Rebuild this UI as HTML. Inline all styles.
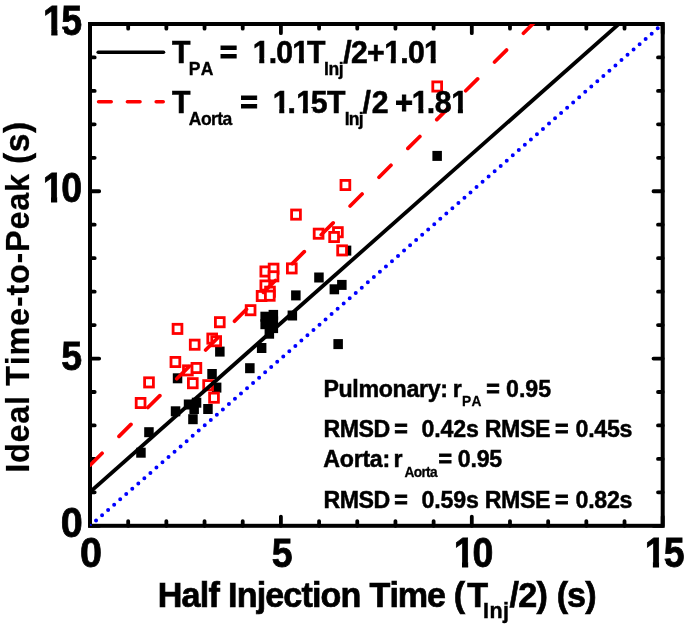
<!DOCTYPE html>
<html><head><meta charset="utf-8"><title>Ideal Time-to-Peak vs Half Injection Time</title>
<style>
html,body{margin:0;padding:0;background:#fff}
svg{display:block}
text{font-family:"Liberation Sans",Arial,Helvetica,sans-serif;font-weight:bold;font-kerning:none;white-space:pre}
</style></head><body>
<svg width="685" height="629" viewBox="0 0 685 629">
<defs><clipPath id="k0"><path clip-rule="evenodd" d="M-500 -500H3000V500H-500ZM1.35 -5.72H9.30V1.81H1.35ZM16.21 -5.72H23.63V1.81H16.21Z"/></clipPath><clipPath id="k1"><path clip-rule="evenodd" d="M-500 -500H3000V500H-500ZM1.35 -5.72H9.30V1.81H1.35ZM16.21 -5.72H23.63V1.81H16.21Z"/></clipPath><clipPath id="k2"><path clip-rule="evenodd" d="M-500 -500H3000V500H-500ZM1.35 -5.72H9.30V1.81H1.35ZM16.21 -5.72H23.63V1.81H16.21Z"/></clipPath><clipPath id="k3"><path clip-rule="evenodd" d="M-500 -500H3000V500H-500ZM1.35 -5.72H9.30V1.81H1.35ZM16.21 -5.72H23.63V1.81H16.21Z"/></clipPath><clipPath id="k4"><path clip-rule="evenodd" d="M-500 -500H3000V500H-500ZM0.91 -4.60H7.07V1.62H0.91ZM12.41 -4.60H18.16V1.62H12.41ZM43.22 -4.60H49.37V1.62H43.22ZM54.72 -4.60H60.47V1.62H54.72Z"/></clipPath><clipPath id="k5"><path clip-rule="evenodd" d="M-500 -500H3000V500H-500ZM0.91 -4.60H7.07V1.62H0.91ZM12.41 -4.60H18.16V1.62H12.41ZM43.54 -4.60H49.69V1.62H43.54ZM55.04 -4.60H60.79V1.62H55.04Z"/></clipPath><clipPath id="k6"><path clip-rule="evenodd" d="M-500 -500H3000V500H-500ZM0.91 -4.60H7.07V1.62H0.91ZM12.41 -4.60H17.51V1.62H12.41Z"/></clipPath><clipPath id="k7"><path clip-rule="evenodd" d="M-500 -500H3000V500H-500ZM0.91 -4.60H7.07V1.62H0.91ZM12.41 -4.60H17.72V1.62H12.41Z"/></clipPath><clipPath id="k8"><path clip-rule="evenodd" d="M-500 -500H3000V500H-500ZM0.91 -4.60H7.07V1.62H0.91ZM12.41 -4.60H17.51V1.62H12.41Z"/></clipPath><clipPath id="k9"><path clip-rule="evenodd" d="M-500 -500H3000V500H-500ZM18.45 -4.60H24.61V1.62H18.45ZM29.95 -4.60H35.70V1.62H29.95Z"/></clipPath><clipPath id="c"><rect x="90.0" y="24.0" width="572.70" height="501.80"/></clipPath></defs>
<rect width="685" height="629" fill="#fff"/>
<rect x="90.0" y="24.0" width="572.70" height="501.80" fill="none" stroke="#000" stroke-width="4"/>
<path d="M90.00 525.8v-9.2M90.00 24.0v9.2M90.0 525.80h9.2M662.7 525.80h-9.2M128.18 525.8v-4.7M128.18 24.0v4.7M90.0 492.35h4.7M662.7 492.35h-4.7M166.36 525.8v-4.7M166.36 24.0v4.7M90.0 458.89h4.7M662.7 458.89h-4.7M204.54 525.8v-4.7M204.54 24.0v4.7M90.0 425.44h4.7M662.7 425.44h-4.7M242.72 525.8v-4.7M242.72 24.0v4.7M90.0 391.99h4.7M662.7 391.99h-4.7M280.90 525.8v-9.2M280.90 24.0v9.2M90.0 358.53h9.2M662.7 358.53h-9.2M319.08 525.8v-4.7M319.08 24.0v4.7M90.0 325.08h4.7M662.7 325.08h-4.7M357.26 525.8v-4.7M357.26 24.0v4.7M90.0 291.63h4.7M662.7 291.63h-4.7M395.44 525.8v-4.7M395.44 24.0v4.7M90.0 258.17h4.7M662.7 258.17h-4.7M433.62 525.8v-4.7M433.62 24.0v4.7M90.0 224.72h4.7M662.7 224.72h-4.7M471.80 525.8v-9.2M471.80 24.0v9.2M90.0 191.27h9.2M662.7 191.27h-9.2M509.98 525.8v-4.7M509.98 24.0v4.7M90.0 157.81h4.7M662.7 157.81h-4.7M548.16 525.8v-4.7M548.16 24.0v4.7M90.0 124.36h4.7M662.7 124.36h-4.7M586.34 525.8v-4.7M586.34 24.0v4.7M90.0 90.91h4.7M662.7 90.91h-4.7M624.52 525.8v-4.7M624.52 24.0v4.7M90.0 57.45h4.7M662.7 57.45h-4.7M662.70 525.8v-9.2M662.70 24.0v9.2M90.0 24.00h9.2M662.7 24.00h-9.2" stroke="#000" stroke-width="3.8" stroke-linecap="round" fill="none"/>
<rect x="136.2" y="447.7" width="9.5" height="10.0" fill="#000"/>
<rect x="144.2" y="427.2" width="9.5" height="10.0" fill="#000"/>
<rect x="170.8" y="406.3" width="9.5" height="10.0" fill="#000"/>
<rect x="172.8" y="373.3" width="9.5" height="10.0" fill="#000"/>
<rect x="183.8" y="399.5" width="9.5" height="10.0" fill="#000"/>
<rect x="191.8" y="397.7" width="9.5" height="10.0" fill="#000"/>
<rect x="189.4" y="404.0" width="9.5" height="10.0" fill="#000"/>
<rect x="188.2" y="414.2" width="9.5" height="10.0" fill="#000"/>
<rect x="203.2" y="404.0" width="9.5" height="10.0" fill="#000"/>
<rect x="207.3" y="369.0" width="9.5" height="10.0" fill="#000"/>
<rect x="211.9" y="382.6" width="9.5" height="10.0" fill="#000"/>
<rect x="215.1" y="346.6" width="9.5" height="10.0" fill="#000"/>
<rect x="245.1" y="363.2" width="9.5" height="10.0" fill="#000"/>
<rect x="256.9" y="343.0" width="9.5" height="10.0" fill="#000"/>
<rect x="260.4" y="311.7" width="9.5" height="10.0" fill="#000"/>
<rect x="268.6" y="309.9" width="9.5" height="10.0" fill="#000"/>
<rect x="260.4" y="319.2" width="9.5" height="10.0" fill="#000"/>
<rect x="268.6" y="316.4" width="9.5" height="10.0" fill="#000"/>
<rect x="268.6" y="323.1" width="9.5" height="10.0" fill="#000"/>
<rect x="264.6" y="328.7" width="9.5" height="10.0" fill="#000"/>
<rect x="287.6" y="310.5" width="9.5" height="10.0" fill="#000"/>
<rect x="291.1" y="290.4" width="9.5" height="10.0" fill="#000"/>
<rect x="314.2" y="272.5" width="9.5" height="10.0" fill="#000"/>
<rect x="329.6" y="284.3" width="9.5" height="10.0" fill="#000"/>
<rect x="337.1" y="279.9" width="9.5" height="10.0" fill="#000"/>
<rect x="333.4" y="339.1" width="9.5" height="10.0" fill="#000"/>
<rect x="341.8" y="245.6" width="9.5" height="10.0" fill="#000"/>
<rect x="432.4" y="150.9" width="9.5" height="10.0" fill="#000"/>
<rect x="136.2" y="398.4" width="8.8" height="9.2" fill="#fff" stroke="#f00" stroke-width="2.8"/>
<rect x="144.6" y="377.8" width="8.8" height="9.2" fill="#fff" stroke="#f00" stroke-width="2.8"/>
<rect x="171.0" y="357.4" width="8.8" height="9.2" fill="#fff" stroke="#f00" stroke-width="2.8"/>
<rect x="173.1" y="324.3" width="8.8" height="9.2" fill="#fff" stroke="#f00" stroke-width="2.8"/>
<rect x="183.5" y="365.8" width="8.8" height="9.2" fill="#fff" stroke="#f00" stroke-width="2.8"/>
<rect x="188.4" y="378.6" width="8.8" height="9.2" fill="#fff" stroke="#f00" stroke-width="2.8"/>
<rect x="192.0" y="363.4" width="8.8" height="9.2" fill="#fff" stroke="#f00" stroke-width="2.8"/>
<rect x="190.3" y="340.1" width="8.8" height="9.2" fill="#fff" stroke="#f00" stroke-width="2.8"/>
<rect x="203.7" y="380.6" width="8.8" height="9.2" fill="#fff" stroke="#f00" stroke-width="2.8"/>
<rect x="209.6" y="393.1" width="8.8" height="9.2" fill="#fff" stroke="#f00" stroke-width="2.8"/>
<rect x="207.8" y="334.0" width="8.8" height="9.2" fill="#fff" stroke="#f00" stroke-width="2.8"/>
<rect x="211.8" y="336.6" width="8.8" height="9.2" fill="#fff" stroke="#f00" stroke-width="2.8"/>
<rect x="215.4" y="317.6" width="8.8" height="9.2" fill="#fff" stroke="#f00" stroke-width="2.8"/>
<rect x="246.2" y="305.6" width="8.8" height="9.2" fill="#fff" stroke="#f00" stroke-width="2.8"/>
<rect x="257.2" y="291.4" width="8.8" height="9.2" fill="#fff" stroke="#f00" stroke-width="2.8"/>
<rect x="260.9" y="266.9" width="8.8" height="9.2" fill="#fff" stroke="#f00" stroke-width="2.8"/>
<rect x="269.2" y="264.1" width="8.8" height="9.2" fill="#fff" stroke="#f00" stroke-width="2.8"/>
<rect x="269.1" y="271.7" width="8.8" height="9.2" fill="#fff" stroke="#f00" stroke-width="2.8"/>
<rect x="260.9" y="280.9" width="8.8" height="9.2" fill="#fff" stroke="#f00" stroke-width="2.8"/>
<rect x="265.6" y="287.1" width="8.8" height="9.2" fill="#fff" stroke="#f00" stroke-width="2.8"/>
<rect x="265.4" y="291.1" width="8.8" height="9.2" fill="#fff" stroke="#f00" stroke-width="2.8"/>
<rect x="287.4" y="263.8" width="8.8" height="9.2" fill="#fff" stroke="#f00" stroke-width="2.8"/>
<rect x="291.6" y="210.0" width="8.8" height="9.2" fill="#fff" stroke="#f00" stroke-width="2.8"/>
<rect x="314.2" y="229.1" width="8.8" height="9.2" fill="#fff" stroke="#f00" stroke-width="2.8"/>
<rect x="333.5" y="227.6" width="8.8" height="9.2" fill="#fff" stroke="#f00" stroke-width="2.8"/>
<rect x="329.7" y="232.4" width="8.8" height="9.2" fill="#fff" stroke="#f00" stroke-width="2.8"/>
<rect x="337.7" y="245.8" width="8.8" height="9.2" fill="#fff" stroke="#f00" stroke-width="2.8"/>
<rect x="341.0" y="180.4" width="8.8" height="9.2" fill="#fff" stroke="#f00" stroke-width="2.8"/>
<rect x="432.8" y="81.9" width="8.8" height="9.2" fill="#fff" stroke="#f00" stroke-width="2.8"/>
<g clip-path="url(#c)">
<line x1="90.00" y1="525.80" x2="662.70" y2="24.00" stroke="#00f" stroke-width="4.0" stroke-linecap="round" stroke-dasharray="0 8.03"/>
<line x1="90.00" y1="492.01" x2="662.70" y2="-14.81" stroke="#000" stroke-width="3.8"/>
<line x1="90.1" y1="465.15" x2="562.7" y2="-5.9" stroke="#f00" stroke-width="3.7" stroke-linecap="round" stroke-dasharray="16.9 23.89"/>
</g>
<line x1="98.2" y1="52.2" x2="163.5" y2="52.2" stroke="#000" stroke-width="3.6" stroke-linecap="round"/>
<line x1="98.6" y1="101.7" x2="163.2" y2="101.7" stroke="#f00" stroke-width="3.6" stroke-linecap="round" stroke-dasharray="12.6 16.2"/>
<text transform="translate(43.04 35.10) scale(0.8890 1)" font-size="42.24" letter-spacing="-2.893" fill="#000" stroke="#000" stroke-width="0.81" clip-path="url(#k0)" >15</text>
<text transform="translate(42.74 202.47) scale(0.8890 1)" font-size="42.24" letter-spacing="-2.674" fill="#000" stroke="#000" stroke-width="0.81" clip-path="url(#k1)" >10</text>
<text transform="translate(61.13 369.73) scale(0.9371 1)" font-size="40.06" letter-spacing="0.000" fill="#000" stroke="#000" stroke-width="0.77" >5</text>
<text transform="translate(60.64 537.10) scale(0.9371 1)" font-size="42.24" letter-spacing="0.000" fill="#000" stroke="#000" stroke-width="0.81" >0</text>
<text transform="translate(80.04 566.60) scale(0.9371 1)" font-size="42.24" letter-spacing="0.000" fill="#000" stroke="#000" stroke-width="0.81" >0</text>
<text transform="translate(271.73 566.70) scale(0.9371 1)" font-size="40.06" letter-spacing="0.000" fill="#000" stroke="#000" stroke-width="0.77" >5</text>
<text transform="translate(453.74 566.60) scale(0.8890 1)" font-size="42.24" letter-spacing="-2.336" fill="#000" stroke="#000" stroke-width="0.81" clip-path="url(#k2)" >10</text>
<text transform="translate(644.64 566.60) scale(0.8890 1)" font-size="42.24" letter-spacing="-2.106" fill="#000" stroke="#000" stroke-width="0.81" clip-path="url(#k3)" >15</text>
<text transform="translate(157.77 606.80) scale(0.9653 1)" font-size="35.35" letter-spacing="-0.846" fill="#000" stroke="#000" stroke-width="0.70" >Half</text>
<text transform="translate(228.07 606.80) scale(0.9653 1)" font-size="35.35" letter-spacing="-0.906" fill="#000" stroke="#000" stroke-width="0.70" >Injection</text>
<text transform="translate(369.57 606.80) scale(0.9653 1)" font-size="35.35" letter-spacing="-1.070" fill="#000" stroke="#000" stroke-width="0.70" >Time</text>
<text transform="translate(453.65 606.80) scale(0.9653 1)" font-size="35.35" letter-spacing="2.235" fill="#000" stroke="#000" stroke-width="0.70" >(T</text>
<text transform="translate(482.99 618.40) scale(0.9653 1)" font-size="22.22" letter-spacing="0.560" fill="#000" stroke="#000" stroke-width="0.44" >Inj</text>
<text transform="translate(509.62 606.80) scale(0.9653 1)" font-size="35.35" letter-spacing="-0.876" fill="#000" stroke="#000" stroke-width="0.70" >/2)</text>
<text transform="translate(556.65 606.80) scale(0.9653 1)" font-size="35.35" letter-spacing="-0.936" fill="#000" stroke="#000" stroke-width="0.70" >(s)</text>
<g transform="translate(28.8 470.7) rotate(-90)">
<text transform="translate(-2.07 0.00) scale(0.9653 1)" font-size="33.63" letter-spacing="0.721" fill="#000" stroke="#000" stroke-width="0.20" >Ideal</text>
<text transform="translate(84.94 0.00) scale(0.9653 1)" font-size="33.63" letter-spacing="0.750" fill="#000" stroke="#000" stroke-width="0.20" >Time-to-Peak</text>
<text transform="translate(306.80 0.40) scale(0.9653 1)" font-size="34.84" letter-spacing="0.464" fill="#000" stroke="#000" stroke-width="0.35" >(s)</text>
</g>
<text transform="translate(171.97 62.80) scale(0.9371 1)" font-size="32.25" letter-spacing="0.000" fill="#000" stroke="#000" stroke-width="0.62" >T</text>
<text transform="translate(188.81 75.20) scale(0.9371 1)" font-size="18.73" letter-spacing="0.317" fill="#000" stroke="#000" stroke-width="0.36" >PA</text>
<text transform="translate(219.77 62.80) scale(0.9371 1)" font-size="32.25" letter-spacing="0.000" fill="#000" stroke="#000" stroke-width="1.05" >=</text>
<text transform="translate(252.64 62.80) scale(0.9371 1)" font-size="32.25" letter-spacing="-0.844" fill="#000" stroke="#000" stroke-width="0.62" clip-path="url(#k4)" >1.01</text>
<text transform="translate(306.97 62.80) scale(0.9371 1)" font-size="32.25" letter-spacing="0.000" fill="#000" stroke="#000" stroke-width="0.62" >T</text>
<text transform="translate(324.01 74.90) scale(0.9371 1)" font-size="18.73" letter-spacing="-0.493" fill="#000" stroke="#000" stroke-width="0.36" >Inj</text>
<text transform="translate(343.21 62.80) scale(0.9371 1)" font-size="32.25" letter-spacing="-0.725" fill="#000" stroke="#000" stroke-width="0.62" >/2+</text>
<text transform="translate(384.14 62.80) scale(0.9371 1)" font-size="32.25" letter-spacing="-0.737" fill="#000" stroke="#000" stroke-width="0.62" clip-path="url(#k5)" >1.01</text>
<text transform="translate(171.97 112.80) scale(0.9371 1)" font-size="32.25" letter-spacing="0.000" fill="#000" stroke="#000" stroke-width="0.62" >T</text>
<text transform="translate(188.84 124.50) scale(0.9371 1)" font-size="18.73" letter-spacing="-0.630" fill="#000" stroke="#000" stroke-width="0.36" >Aorta</text>
<text transform="translate(240.17 112.80) scale(0.9371 1)" font-size="32.25" letter-spacing="0.000" fill="#000" stroke="#000" stroke-width="1.05" >=</text>
<text transform="translate(272.64 112.80) scale(0.9371 1)" font-size="32.25" letter-spacing="-2.006" fill="#000" stroke="#000" stroke-width="0.62" clip-path="url(#k6)" >1.</text>
<text transform="translate(296.24 112.80) scale(0.9371 1)" font-size="32.25" letter-spacing="-2.489" fill="#000" stroke="#000" stroke-width="0.62" clip-path="url(#k7)" >15</text>
<text transform="translate(326.97 112.80) scale(0.9371 1)" font-size="32.25" letter-spacing="0.000" fill="#000" stroke="#000" stroke-width="0.62" >T</text>
<text transform="translate(344.71 124.50) scale(0.9371 1)" font-size="18.73" letter-spacing="-0.867" fill="#000" stroke="#000" stroke-width="0.36" >Inj</text>
<text transform="translate(362.51 112.80) scale(0.9371 1)" font-size="32.25" letter-spacing="0.830" fill="#000" stroke="#000" stroke-width="0.62" >/2</text>
<text transform="translate(395.16 112.80) scale(0.9371 1)" font-size="32.25" letter-spacing="0.000" fill="#000" stroke="#000" stroke-width="1.05" >+</text>
<text transform="translate(411.74 112.80) scale(0.9371 1)" font-size="32.25" letter-spacing="-2.006" fill="#000" stroke="#000" stroke-width="0.62" clip-path="url(#k8)" >1.</text>
<text transform="translate(434.85 112.80) scale(0.9371 1)" font-size="32.25" letter-spacing="-0.397" fill="#000" stroke="#000" stroke-width="0.62" clip-path="url(#k9)" >81</text>
<text transform="translate(323.39 396.60) scale(0.9653 1)" font-size="24.04" letter-spacing="-0.350" fill="#000" stroke="#000" stroke-width="0.48" >Pulmonary:</text>
<text transform="translate(452.71 396.80) scale(0.9371 1)" font-size="24.76" letter-spacing="0.000" fill="#000" stroke="#000" stroke-width="0.48" >r</text>
<text transform="translate(462.02 406.30) scale(0.9371 1)" font-size="14.67" letter-spacing="0.323" fill="#000" stroke="#000" stroke-width="0.28" >PA</text>
<text transform="translate(486.34 396.80) scale(0.9371 1)" font-size="24.76" letter-spacing="0.000" fill="#000" stroke="#000" stroke-width="0.81" >=</text>
<text transform="translate(506.02 396.80) scale(0.9371 1)" font-size="24.76" letter-spacing="-0.027" fill="#000" stroke="#000" stroke-width="0.48" >0.95</text>
<text transform="translate(323.59 436.50) scale(0.9371 1)" font-size="24.76" letter-spacing="-0.595" fill="#000" stroke="#000" stroke-width="0.48" >RMSD</text>
<text transform="translate(394.34 436.50) scale(0.9371 1)" font-size="24.76" letter-spacing="0.000" fill="#000" stroke="#000" stroke-width="0.81" >=</text>
<text transform="translate(421.52 436.50) scale(0.9371 1)" font-size="24.76" letter-spacing="-0.154" fill="#000" stroke="#000" stroke-width="0.48" >0.42s</text>
<text transform="translate(484.79 436.50) scale(0.9371 1)" font-size="24.76" letter-spacing="-0.448" fill="#000" stroke="#000" stroke-width="0.48" >RMSE</text>
<text transform="translate(555.04 436.50) scale(0.9371 1)" font-size="24.76" letter-spacing="0.000" fill="#000" stroke="#000" stroke-width="0.81" >=</text>
<text transform="translate(575.52 436.50) scale(0.9371 1)" font-size="24.76" letter-spacing="-0.287" fill="#000" stroke="#000" stroke-width="0.48" >0.45s</text>
<text transform="translate(323.59 507.80) scale(0.9371 1)" font-size="24.76" letter-spacing="-0.595" fill="#000" stroke="#000" stroke-width="0.48" >RMSD</text>
<text transform="translate(394.34 507.80) scale(0.9371 1)" font-size="24.76" letter-spacing="0.000" fill="#000" stroke="#000" stroke-width="0.81" >=</text>
<text transform="translate(421.52 507.80) scale(0.9371 1)" font-size="24.76" letter-spacing="-0.154" fill="#000" stroke="#000" stroke-width="0.48" >0.59s</text>
<text transform="translate(484.79 507.80) scale(0.9371 1)" font-size="24.76" letter-spacing="-0.448" fill="#000" stroke="#000" stroke-width="0.48" >RMSE</text>
<text transform="translate(555.04 507.80) scale(0.9371 1)" font-size="24.76" letter-spacing="0.000" fill="#000" stroke="#000" stroke-width="0.81" >=</text>
<text transform="translate(575.52 507.80) scale(0.9371 1)" font-size="24.76" letter-spacing="-0.287" fill="#000" stroke="#000" stroke-width="0.48" >0.82s</text>
<text transform="translate(323.36 467.30) scale(0.9653 1)" font-size="24.04" letter-spacing="-0.309" fill="#000" stroke="#000" stroke-width="0.48" >Aorta:</text>
<text transform="translate(393.61 467.30) scale(0.9371 1)" font-size="24.76" letter-spacing="0.000" fill="#000" stroke="#000" stroke-width="0.48" >r</text>
<text transform="translate(404.40 476.70) scale(0.9371 1)" font-size="14.67" letter-spacing="-0.701" fill="#000" stroke="#000" stroke-width="0.28" >Aorta</text>
<text transform="translate(438.54 467.30) scale(0.9371 1)" font-size="24.76" letter-spacing="0.000" fill="#000" stroke="#000" stroke-width="0.81" >=</text>
<text transform="translate(457.82 467.30) scale(0.9371 1)" font-size="24.76" letter-spacing="-0.276" fill="#000" stroke="#000" stroke-width="0.48" >0.95</text>
</svg>
</body></html>
